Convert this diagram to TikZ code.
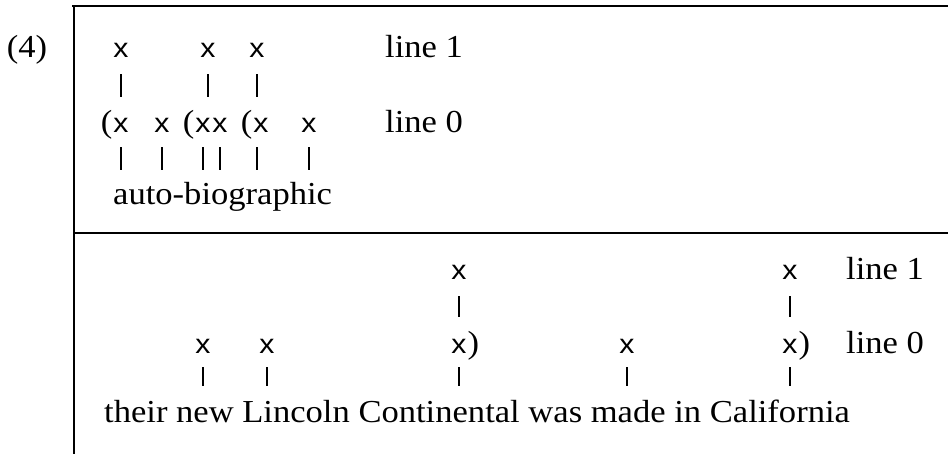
\documentclass[tikz,border=0pt]{standalone}
\usepackage{fontspec}
\setmainfont[FakeStretch=1.08]{Liberation Serif}
\setsansfont[FakeStretch=1.12]{Liberation Sans}
\usetikzlibrary{positioning, calc}
\newcommand{\txtfont}{\fontsize{32}{38}\selectfont\rmfamily}
\newcommand{\mkfont}{\fontsize{27}{32}\selectfont\sffamily}
\newcommand{\opn}{\smash{\llap{\txtfont(\kern1pt}}}
\newcommand{\cls}{\smash{\rlap{\txtfont\kern1pt)}}}
\begin{document}
\begin{tikzpicture}[x=1pt, y=-1pt, mk/.style={font=\mkfont, inner sep=0pt, anchor=base}, lbl/.style={font=\txtfont, inner sep=0pt, anchor=base west}, rule/.style={line width=1.6pt}, bar/.style={line width=1.6pt, shorten <=16pt, shorten >=22pt}, tick/.style={line width=1.6pt, shorten <=14pt, shorten >=13pt}]
\useasboundingbox (0,0) rectangle (948,454);
\draw[rule] (72,6) -- (948,6);
\draw[rule] (74,6) -- (74,454);
\draw[rule] (74,233) -- (948,233);
\node[lbl, anchor=base] (num) at (27,58) {(4)};
% upper panel
\node[mk] (t1a) at (121,58) {x};
\node[mk] (t1b) at (208,58) {x};
\node[mk] (t1c) at (257,58) {x};
\node[lbl] (tl1) at (385,58) {line 1};
\node[mk] (t0a) at (121,133) {\opn x};
\node[mk] (t0b) at (162,133) {x};
\node[mk] (t0c) at (203,133) {\opn x};
\node[mk] (t0d) at (220,133) {x};
\node[mk] (t0e) at (261,133) {\opn x};
\node[mk] (t0f) at (309,133) {x};
\node[lbl] (tl0) at (385,133) {line 0};
\node[lbl] (tw) at (113,205) {auto-biographic};
\draw[bar] (t1a) -- (t1a |- t0a.north);
\draw[bar] (t1b) -- (t1b |- t0c.north);
\draw[bar] (t1c) -- (t1c |- t0e.north);
\foreach \m in {t0a,t0b,t0c,t0d,t0f} \draw[tick] (\m) -- (\m |- tw.north);
\draw[tick] (t0e.south -| t1c) -- (t1c |- tw.north);
% lower panel
\node[mk] (b1a) at (459,280) {x};
\node[mk] (b1b) at (790,280) {x};
\node[lbl] (bl1) at (846,280) {line 1};
\node[mk] (b0a) at (203,353) {x};
\node[mk] (b0b) at (267,353) {x};
\node[mk] (b0c) at (459,353) {x\cls};
\node[mk] (b0d) at (627,353) {x};
\node[mk] (b0e) at (790,353) {x\cls};
\node[lbl] (bl0) at (846,353) {line 0};
\node[lbl] (bw) at (104,422) {their new Lincoln Continental was made in California};
\draw[bar] (b1a) -- (b0c);
\draw[bar] (b1b) -- (b0e);
\foreach \m in {b0a,b0b,b0c,b0d,b0e} \draw[tick] (\m) -- (\m |- bw.north);
\end{tikzpicture}
\end{document}
